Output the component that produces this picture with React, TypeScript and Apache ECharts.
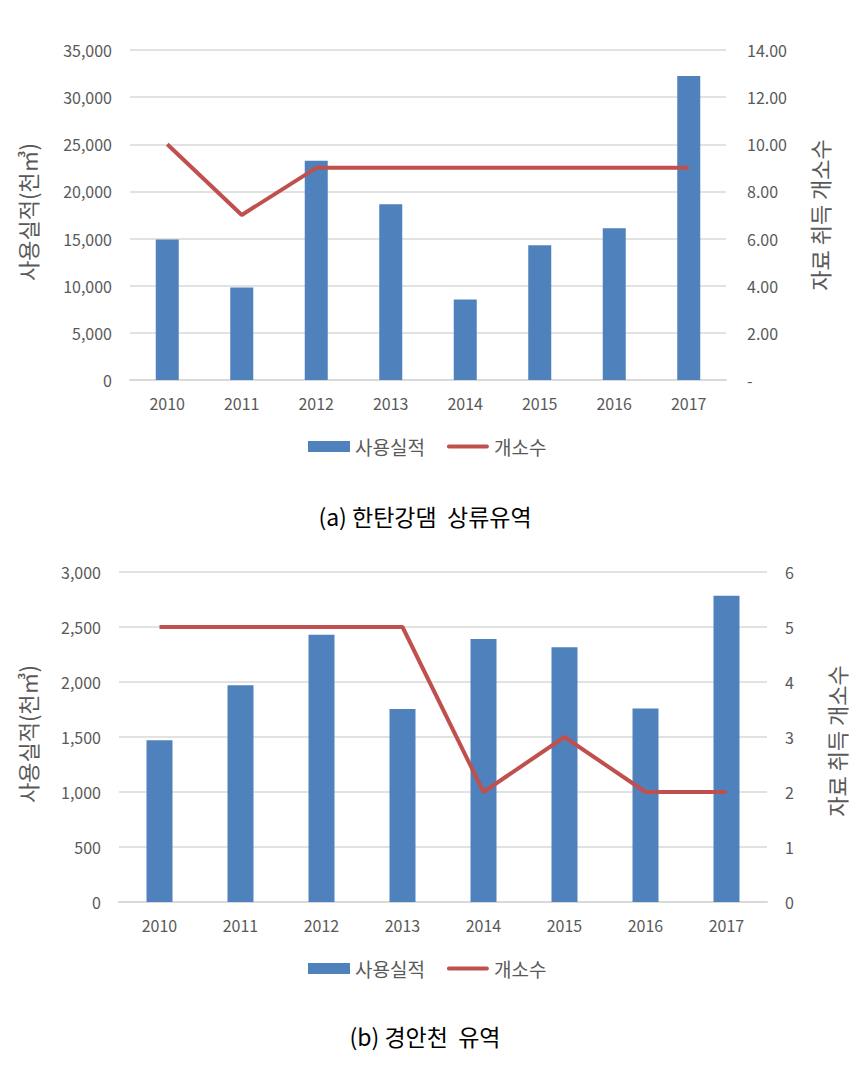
import React, { useEffect, useRef } from "react";
import * as echarts from "echarts";

const years = ["2010", "2011", "2012", "2013", "2014", "2015", "2016", "2017"];
const usageA = [14900, 9800, 23250, 18650, 8550, 14300, 16100, 32250];
const countA = [10, 7, 9, 9, 9, 9, 9, 9];
const usageB = [1470, 1970, 2430, 1755, 2390, 2315, 1760, 2785];
const countB = [5, 5, 5, 5, 2, 3, 2, 2];

const barName = "사용실적";
const lineName = "개소수";
const leftTitle = "사용실적(천㎥)";
const rightTitle = "자료 취득 개소수";
const captionA = "(a) 한탄강댐  상류유역";
const captionB = "(b) 경안천  유역";

const FONT = "'Noto Sans CJK KR', 'Noto Sans', sans-serif";
const GRAY = "#595959";
const GRID = "#d9d9d9";
const BLUE = "#4f81bd";
const RED = "#c0504d";

const fmt = (v: number) => v.toLocaleString("en-US");

export default function App() {
  const ref = useRef<HTMLDivElement>(null);
  useEffect(() => {
    if (!ref.current) return;
    const chart = echarts.init(ref.current, undefined, { renderer: "svg" });
    const xAxisBase = (gi: number) => ({
      type: "category",
      gridIndex: gi,
      data: years,
      axisTick: { show: false },
      axisLine: { lineStyle: { color: GRID, width: 2 } },
      axisLabel: { color: GRAY, fontSize: 16, fontFamily: FONT, margin: 15 },
    });
    const leftY = (gi: number, max: number, interval: number) => ({
      type: "value",
      gridIndex: gi,
      min: 0,
      max,
      interval,
      axisLine: { show: false },
      axisTick: { show: false },
      splitLine: { lineStyle: { color: GRID, width: 1.5 } },
      axisLabel: { color: GRAY, fontSize: 16, fontFamily: FONT, margin: 18, formatter: (v: number) => fmt(v) },
    });
    const rightY = (gi: number, max: number, interval: number, f: (v: number) => string, margin: number) => ({
      type: "value",
      gridIndex: gi,
      position: "right",
      min: 0,
      max,
      interval,
      axisLine: { show: false },
      axisTick: { show: false },
      splitLine: { show: false },
      axisLabel: { color: GRAY, fontSize: 16, fontFamily: FONT, margin, formatter: f },
    });
    const legendBase = (top: number) => ({
      top,
      left: 303,
      itemWidth: 42,
      itemHeight: 11,
      itemGap: 22,
      textStyle: { color: GRAY, fontSize: 19, fontFamily: FONT },
      data: [
        { name: barName, icon: "rect" },
        { name: lineName, icon: "path://M2,0 L42,0 A2,2 0 0 1 42,4 L2,4 A2,2 0 0 1 2,0 Z" },
      ],
    });
    const axisTitle = (x: number, y: number, text: string) => ({
      type: "text",
      x,
      y,
      rotation: Math.PI / 2,
      style: { text, fill: GRAY, fontSize: 22, fontFamily: FONT, align: "center", verticalAlign: "middle" },
    });
    const caption = (x: number, y: number, text: string) => ({
      type: "text",
      x,
      y,
      style: { text, fill: "#000", fontSize: 23, fontFamily: FONT, align: "center", verticalAlign: "middle" },
    });
    chart.setOption({
      animation: false,
      grid: [
        { left: 130, right: 142, top: 50, height: 330 },
        { left: 119, right: 101, top: 572, height: 330 },
      ],
      xAxis: [xAxisBase(0), xAxisBase(1)],
      yAxis: [
        leftY(0, 35000, 5000),
        rightY(0, 14, 2, (v: number) => (v === 0 ? "-" : v.toFixed(2)), 21),
        leftY(1, 3000, 500),
        rightY(1, 6, 1, (v: number) => String(v), 18),
      ],
      legend: [legendBase(432), legendBase(954)],
      series: [
        { name: barName, type: "bar", xAxisIndex: 0, yAxisIndex: 0, data: usageA, barWidth: 23, itemStyle: { color: BLUE } },
        { name: lineName, type: "line", xAxisIndex: 0, yAxisIndex: 1, data: countA, symbol: "none", lineStyle: { color: RED, width: 4 }, itemStyle: { color: RED } },
        { name: barName, type: "bar", xAxisIndex: 1, yAxisIndex: 2, data: usageB, barWidth: 26, itemStyle: { color: BLUE } },
        { name: lineName, type: "line", xAxisIndex: 1, yAxisIndex: 3, data: countB, symbol: "none", lineStyle: { color: RED, width: 4 }, itemStyle: { color: RED } },
      ],
      graphic: [
        axisTitle(27, 212, leftTitle),
        axisTitle(819, 215, rightTitle),
        axisTitle(27, 734, leftTitle),
        axisTitle(836, 741, rightTitle),
        caption(425, 516, captionA),
        caption(425, 1036, captionB),
      ],
    });
    return () => chart.dispose();
  }, []);
  return (
    <div
      ref={ref}
      style={{ position: "fixed", left: 0, top: 0, width: 868, height: 1074, background: "#fff" }}
    />
  );
}
